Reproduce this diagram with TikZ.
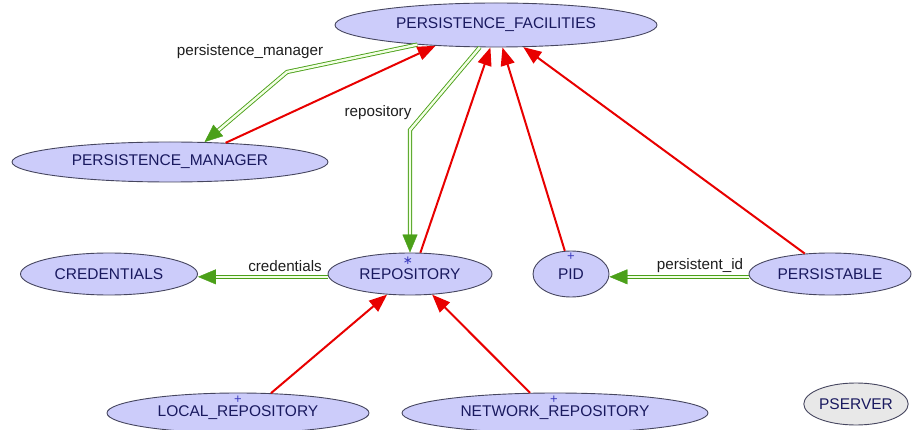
\documentclass[tikz,border=0pt]{standalone}
\usepackage{fontspec}
\setmainfont{Liberation Sans}
\newfontfamily\markfont{DejaVu Sans}
\usetikzlibrary{shapes.geometric,arrows.meta,calc}

\definecolor{classfill}{RGB}{204,204,250}
\definecolor{classline}{RGB}{70,70,95}
\definecolor{classtext}{RGB}{25,25,95}
\definecolor{serverfill}{RGB}{232,232,232}
\definecolor{inheritred}{RGB}{232,0,0}
\definecolor{clientgreen}{RGB}{75,160,25}
\definecolor{clientinner}{RGB}{242,255,228}
\definecolor{labeltext}{RGB}{30,30,30}
\definecolor{markblue}{RGB}{60,60,190}

\tikzset{
  cls/.style={ellipse, draw=classline, line width=0.9pt, fill=classfill,
    text=classtext, inner sep=0pt, font=\fontsize{15.5}{18}\selectfont},
  lbl/.style={font=\fontsize{15.2}{18}\selectfont, text=labeltext, inner sep=0pt},
  marker/.style={text=markblue, inner sep=0pt, anchor=base},
  inherit/.style={draw=inheritred, line width=2pt,
    -{Triangle[length=18pt,width=14pt]}},
  client/.style={draw=clientgreen, line width=0.9pt, double=clientinner,
    double distance=2.4pt, shorten >=15pt},
  ctip/.style={draw=clientgreen, fill=clientgreen, line width=0.4pt,
    -{Triangle[length=18pt,width=15pt]}}
}

\begin{document}
\begin{tikzpicture}[x=1pt,y=-1pt]
\useasboundingbox (0,0) rectangle (912,430);

% classes
\node[cls, minimum width=322pt, minimum height=44pt] (pf) at (496,25) {PERSISTENCE\_FACILITIES};
\node[cls, minimum width=316pt, minimum height=40pt] (pm) at (170,162) {PERSISTENCE\_MANAGER};
\node[cls, minimum width=177pt, minimum height=42pt] (cred) at (109,274) {CREDENTIALS};
\node[cls, minimum width=164pt, minimum height=42pt] (repo) at (410,274) {REPOSITORY};
\node[cls, minimum width=76pt, minimum height=46pt] (pid) at (571,274) {PID};
\node[cls, minimum width=162pt, minimum height=42pt] (pers) at (830,274) {PERSISTABLE};
\node[cls, minimum width=262pt, minimum height=40pt] (local) at (238,413) {LOCAL\_REPOSITORY};
\node[cls, minimum width=306pt, minimum height=40pt] (network) at (555,413) {NETWORK\_REPOSITORY};
\node[cls, fill=serverfill, minimum width=101pt, minimum height=42pt] (pserver) at (856,404) {PSERVER};

% class markers
\node[marker, font=\markfont\fontsize{12}{12}\selectfont] (repomark) at (408,265) {∗};
\node[marker, font=\fontsize{13}{13}\selectfont] (pidmark) at (571,261) {+};
\node[marker, font=\fontsize{13}{13}\selectfont] (localmark) at (238,403) {+};
\node[marker, font=\fontsize{13}{13}\selectfont] (networkmark) at (554,403) {+};

% client relations
\coordinate (pmbend) at (287,72);
\draw[client] (pf.194) -- (pmbend) -- (pm.30);
\draw[ctip] ($(pm.30)!15pt!(pmbend)$) -- (pm.30);

\coordinate (repobend) at (410,130);
\draw[client] (pf.234) -- (repobend) -- (repo.north);
\draw[ctip] ($(repo.north)!15pt!(repobend)$) -- (repo.north);

\coordinate (credin) at (cred.east |- repo.182);
\draw[client] (repo.182) -- (credin);
\draw[ctip] ($(credin)!15pt!(repo.182)$) -- (credin);

\coordinate (pidin) at (pid.east |- pers.182);
\draw[client] (pers.182) -- (pidin);
\draw[ctip] ($(pidin)!15pt!(pers.182)$) -- (pidin);

% inheritance
\draw[inherit] (pm.19) -- (pf.199);
\draw[inherit] (repo.64) -- (pf.256);
\draw[inherit] (pid.105) -- (pf.286);
\draw[inherit] (pers.141) -- (pf.321);
\draw[inherit] (local.31) -- (repo.222);
\draw[inherit] (network.141) -- (repo.317);

% relation labels
\node[lbl] (lpm) at (250,52) {persistence\_manager};
\node[lbl] (lrepo) at (378,113) {repository};
\node[lbl] (lcred) at (285,266) {credentials};
\node[lbl] (lpid) at (700,266) {persistent\_id};
\end{tikzpicture}
\end{document}
